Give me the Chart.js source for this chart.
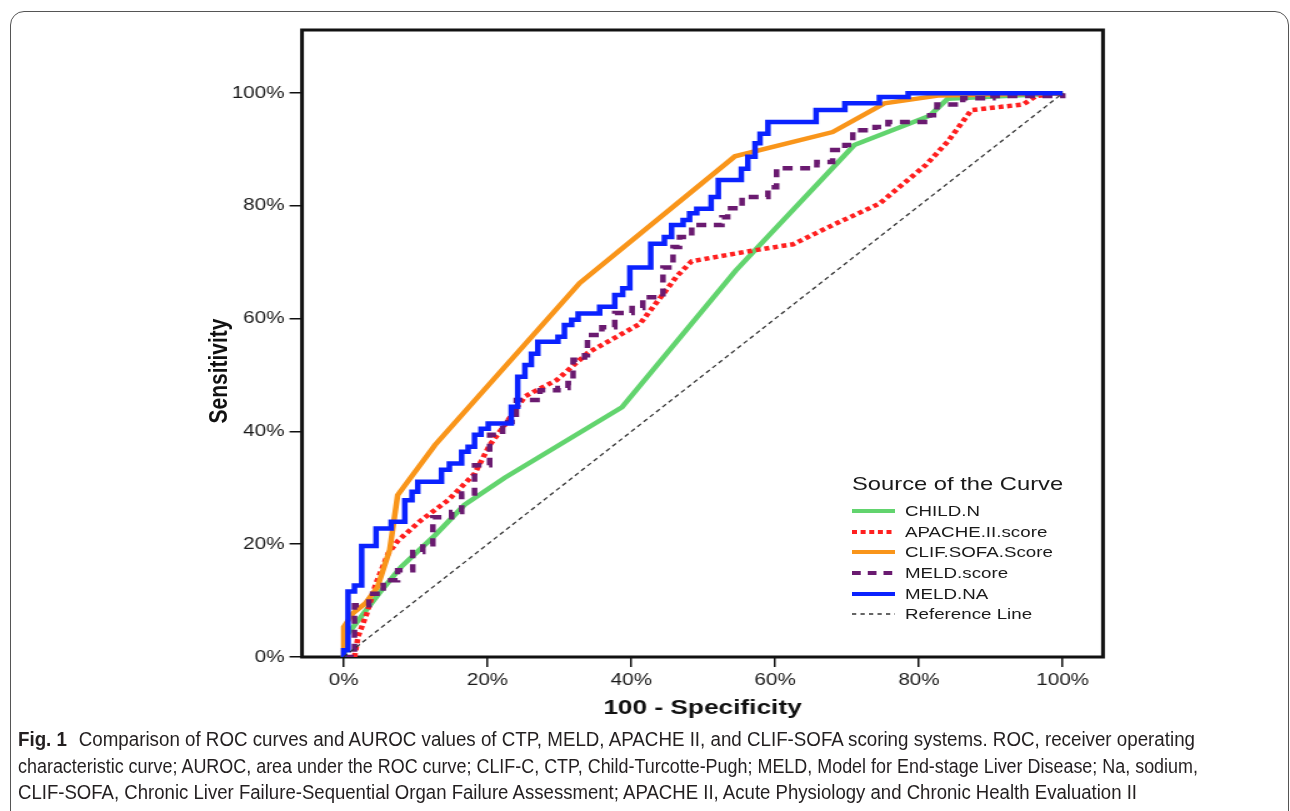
<!DOCTYPE html>
<html>
<head>
<meta charset="utf-8">
<title>ROC curves</title>
<script src="https://cdn.jsdelivr.net/npm/chart.js@4.4.1/dist/chart.umd.min.js"></script>
<style>
    html, body { margin: 0; padding: 0; background: #fff; }
    body { position: relative; width: 1290px; height: 811px; overflow: hidden; font-family: "Liberation Sans", Arial, sans-serif; }
    #border { position: absolute; left: 10px; top: 11px; width: 1279px; height: 850px; border: 1.5px solid #555; border-radius: 14px; box-sizing: border-box; }
    #rocChart { position: absolute; left: 0; top: 0; }
    #overlay { position: absolute; left: 0; top: 0; }
    #caption { position: absolute; left: 18px; top: 726px; color: #231f20; font-family: "Liberation Sans", Arial, sans-serif; font-size: 20px; line-height: 26.5px; white-space: nowrap; }
    #caption > div { transform-origin: 0 0; }
    #caption span { display: inline-block; }
    #caption b { margin-right: 7px; }
</style>
</head>
<body>
<div id="border"></div>
<!-- the source figure is stretched sideways, so the canvas is drawn narrow and widened by its inline style -->
<canvas id="rocChart" width="1032" height="811" style="width:1290px;height:811px"></canvas>
<svg id="overlay" width="1290" height="811" xmlns="http://www.w3.org/2000/svg"></svg>
<div id="caption">
    <div data-w="1177"><span><b>Fig. 1</b> Comparison of ROC curves and AUROC values of CTP, MELD, APACHE II, and CLIF-SOFA scoring systems. ROC, receiver operating</span></div>
    <div data-w="1180"><span>characteristic curve; AUROC, area under the ROC curve; CLIF-C, CTP, Child-Turcotte-Pugh; MELD, Model for End-stage Liver Disease; Na, sodium,</span></div>
    <div data-w="1119"><span>CLIF-SOFA, Chronic Liver Failure-Sequential Organ Failure Assessment; APACHE II, Acute Physiology and Chronic Health Evaluation II</span></div>
</div>
<script>
// values, in percent (x = 100 - specificity, y = sensitivity)
var xTicks = [0, 20, 40, 60, 80, 100];
var yTicks = [0, 20, 40, 60, 80, 100];

var childX = [0, 0.5, 5.3, 8, 12.7, 16.8, 22.4, 38.7, 54.5, 71, 81.5, 84, 100];
var childY = [0, 4, 11.9, 16, 21.6, 27, 31.8, 44.3, 68.5, 90.8, 96, 99, 100];

var apacheX = [1.5, 2, 3.2, 4.5, 6.2, 7.6, 10.8, 14.5, 18.2, 20.3, 22.2, 24, 25.2, 26.8, 29.6, 34, 38.8, 41.2, 44.2, 46.3, 48.4, 56, 62.5, 68, 74.5, 81, 84, 87.3, 94.5, 96.3, 100];
var apacheY = [0, 3.6, 7.7, 13.1, 18.4, 20.7, 24.3, 27.8, 32.5, 37.6, 40.8, 44.1, 46.2, 47.3, 49.1, 54, 57.4, 59.1, 64, 67.5, 70.2, 71.9, 73.2, 76.6, 80.4, 87.3, 91.4, 97, 98, 99.5, 100];

var clifX = [0, 0, 1.3, 3, 4.7, 6.4, 7.5, 12.7, 32.8, 54.4, 68, 75.2, 82.9, 100];
var clifY = [0, 5.3, 7.8, 9.5, 12.4, 19, 28.7, 37.6, 66.3, 88.8, 93.1, 98.2, 99.6, 100];

// step curves: each point is the top of a vertical step, reached by going right first
var meldX = [0, 1.5, 3.5, 5.5, 7.5, 9.6, 11, 12.4, 15, 16.4, 18.2, 20.3, 22.1, 24, 27.3, 29.8, 31.2, 31.9, 33.5, 33.9, 35.9, 37.7, 40.1, 41.6, 44.4, 45.8, 46.7, 48.4, 52.6, 53.4, 55.4, 59, 60.2, 65.8, 68, 69.7, 70.8, 73.9, 75.7, 81.5, 82.5, 86.1, 90.3, 100];
var meldY = [0, 9.2, 11.2, 13.6, 15.4, 18.6, 20, 24.8, 25.7, 29, 34, 39.4, 41.7, 45.6, 47.3, 47.7, 48.6, 52.7, 53.5, 57.1, 58.5, 61, 61.9, 63.8, 69.1, 72.7, 74.5, 76.6, 78, 79.6, 81.6, 83.3, 86.7, 87.8, 89.9, 90.8, 93.4, 94, 94.9, 96.1, 98, 99.1, 99.5, 100];

var meldNaX = [0, 0, 0.6, 1.5, 2.5, 4.5, 6.6, 8.5, 9.5, 10.3, 13.6, 14.7, 16.4, 17.3, 18.2, 19.1, 20.1, 23.3, 24.2, 25.2, 26.1, 27, 29.8, 30.7, 31.7, 32.6, 35.6, 37.7, 38.8, 39.8, 42.7, 44.6, 45.6, 47.2, 48.1, 49.1, 51.1, 52.1, 55.3, 56.2, 57.2, 57.9, 59, 65.7, 69.7, 74.5, 78.5, 100];
var meldNaY = [0, 1.2, 11.6, 12.7, 19.7, 22.8, 24, 27.8, 29.3, 31.1, 33.2, 34.3, 36.4, 37.3, 39.4, 40.5, 41.4, 44.4, 49.7, 51.8, 53.8, 55.9, 56.8, 58.9, 59.8, 60.9, 62.1, 64.2, 65.4, 69.1, 73.3, 74.5, 76.6, 77.5, 78.7, 79.5, 81.6, 84.6, 86.6, 88.7, 91.1, 92.8, 94.9, 97, 98.2, 99.3, 100, 100];

var refX = [0, 100];
var refY = [0, 100];

var seriesNames = ['CHILD.N', 'APACHE.II.score', 'CLIF.SOFA.Score', 'MELD.score', 'MELD.NA', 'Reference Line'];

var FONT = '"Liberation Sans", Arial, sans-serif';
var STRETCH = 1.25;

function pts(xs, ys) {
    return xs.map(function (x, i) { return { x: x, y: ys[i] }; });
}

// chart.js 'before' = horizontal run first, then the vertical step
var styles = [
    { color: '#62d46e', width: 4.5, dash: [], legendDash: 'none', stepped: false },
    { color: '#ff1f1f', width: 4.5, dash: [4, 3], legendDash: '4 2.9', stepped: false },
    { color: '#f9951a', width: 4.5, dash: [], legendDash: 'none', stepped: false },
    { color: '#6a1a70', width: 4.5, dash: [8, 6], legendDash: '7 5.6', stepped: 'before' },
    { color: '#0a22ff', width: 4.5, dash: [], legendDash: 'none', stepped: 'before' },
    { color: '#333333', width: 1.3, dash: [4, 3], legendDash: '3.4 3.4', stepped: false }
];
var seriesData = [pts(childX, childY), pts(apacheX, apacheY), pts(clifX, clifY), pts(meldX, meldY), pts(meldNaX, meldNaY), pts(refX, refY)];

var datasets = seriesData.map(function (d, i) {
    var s = styles[i];
    return {
        label: seriesNames[i],
        data: d,
        borderColor: s.color,
        backgroundColor: s.color,
        borderWidth: s.width,
        borderDash: s.dash,
        borderCapStyle: 'butt',
        borderJoinStyle: 'miter',
        stepped: s.stepped,
        pointRadius: 0,
        tension: 0,
        fill: false,
        order: seriesNames.length - i
    };
});

var framePlugin = {
    id: 'plotFrame',
    beforeDatasetsDraw: function (chart) {
        var a = chart.chartArea;
        var ctx = chart.ctx;
        ctx.save();
        ctx.strokeStyle = '#111';
        ctx.lineWidth = 3;
        ctx.strokeRect(a.left, a.top, a.right - a.left, a.bottom - a.top);
        ctx.restore();
    }
};

function fixTicks(list) {
    return function (scale) {
        scale.ticks = list.map(function (v) { return { value: v }; });
    };
}

var tickGrid = { display: true, drawOnChartArea: false, drawTicks: true, tickLength: 10, color: '#111', lineWidth: 1.5 };

new Chart(document.getElementById('rocChart'), {
    type: 'line',
    data: { datasets: datasets },
    options: {
        responsive: false,
        animation: false,
        devicePixelRatio: 1,
        layout: { padding: { left: 141.6, right: 149.6, top: 30, bottom: 90 } },
        plugins: { legend: { display: false }, tooltip: { enabled: false } },
        scales: {
            x: {
                type: 'linear',
                min: -5.8,
                max: 105.6,
                afterBuildTicks: fixTicks(xTicks),
                afterFit: function (s) { s.height = 64; },
                grid: tickGrid,
                border: { display: false },
                ticks: {
                    padding: 4, color: '#1a1a1a', maxRotation: 0, autoSkip: false,
                    font: { family: FONT, size: 16.5 },
                    callback: function (v) { return v + '%'; }
                },
                title: {
                    display: true, text: '100 - Specificity', color: '#111',
                    font: { family: FONT, size: 21, weight: 'bold' },
                    padding: { top: 0, bottom: 0 }
                }
            },
            y: {
                type: 'linear',
                min: 0,
                max: 111.2,
                afterBuildTicks: fixTicks(yTicks),
                afterFit: function (s) { s.width = 100; },
                grid: tickGrid,
                border: { display: false },
                ticks: {
                    padding: 4, color: '#1a1a1a',
                    font: { family: FONT, size: 16.5 },
                    callback: function (v) { return v + '%'; }
                },
                title: { display: false }
            }
        }
    },
    plugins: [framePlugin]
});

// y title and legend sit in an svg on top, stretched the same way as the canvas
(function () {
    var svg = document.getElementById('overlay');
    var NS = 'http://www.w3.org/2000/svg';

    function el(name, attrs, text) {
        var e = document.createElementNS(NS, name);
        Object.keys(attrs).forEach(function (k) { e.setAttribute(k, attrs[k]); });
        if (text) e.textContent = text;
        return e;
    }

    svg.appendChild(el('text', {
        transform: 'translate(218,371) scale(' + STRETCH + ',1) rotate(-90)',
        'text-anchor': 'middle', 'dominant-baseline': 'central',
        'font-family': FONT, 'font-size': 21, 'font-weight': 'bold', fill: '#111'
    }, 'Sensitivity'));

    var g = el('g', { transform: 'translate(852,0) scale(' + STRETCH + ',1)' });
    g.appendChild(el('text', { x: 0, y: 490, 'font-family': FONT, 'font-size': 19, fill: '#1a1a1a' }, 'Source of the Curve'));
    var rowY = [511, 532, 552, 573, 594, 614];
    seriesNames.forEach(function (name, i) {
        var s = styles[i];
        g.appendChild(el('line', {
            x1: 0, x2: 34.4, y1: rowY[i], y2: rowY[i],
            stroke: s.color, 'stroke-width': s.width < 2 ? 1.5 : 4,
            'stroke-dasharray': s.legendDash
        }));
        g.appendChild(el('text', { x: 42.4, y: rowY[i] + 5.4, 'font-family': FONT, 'font-size': 15, fill: '#1a1a1a' }, name));
    });
    svg.appendChild(g);
})();

// squeeze each caption line to the width it has in the figure
document.querySelectorAll('#caption > div').forEach(function (row) {
    var w = row.firstElementChild.getBoundingClientRect().width;
    var target = parseFloat(row.getAttribute('data-w'));
    if (w > 0) {
        row.style.transform = 'scaleX(' + (target / w).toFixed(4) + ')';
    }
});
</script>
</body>
</html>
